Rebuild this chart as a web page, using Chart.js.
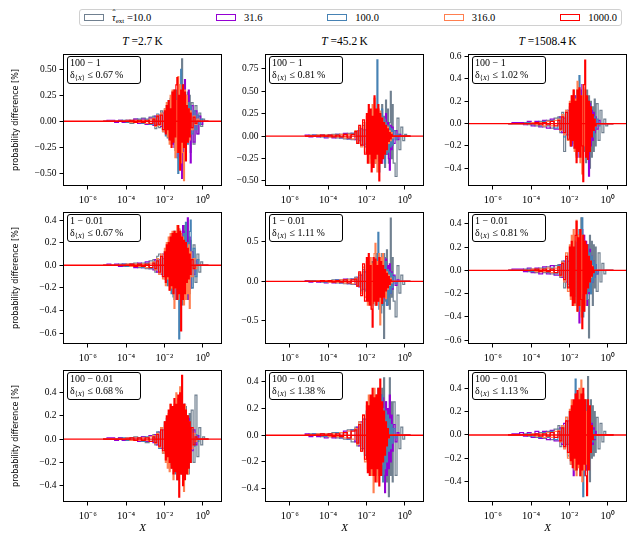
<!DOCTYPE html>
<html>
<head>
<meta charset="utf-8">
<script src="https://cdn.jsdelivr.net/npm/chart.js@4.4.0/dist/chart.umd.min.js"></script>
<style>
  body { margin: 0; background: #fff; }
  #fig { position: relative; width: 642px; height: 545px; overflow: hidden; font-family: "Liberation Serif", serif; color: #000; }
  #fig canvas { position: absolute; }
  .coltitle { position: absolute; top: 34px; width: 159px; text-align: center; font-size: 11.5px; line-height: 15px; }
  .note { position: absolute; box-sizing: border-box; width: 74px; height: 27.5px; border: 1.3px solid #000; border-radius: 3px;
          background: #fff; font-size: 10px; line-height: 11.6px; padding: 0 0 0 2.5px; z-index: 2; white-space: nowrap; }
  .sub { font-size: 7px; vertical-align: -2px; line-height: 0; }
  .hat { position: relative; display: inline-block; }
  .hat span { position: absolute; left: 0.5px; top: -4px; font-style: normal; font-size: 9px; }
  .legend { position: absolute; left: 79px; top: 9px; width: 543px; height: 17px; box-sizing: border-box; border: 1px solid #d0d0d0;
            border-radius: 3px; display: flex; justify-content: space-between; align-items: center; padding: 0 4px; font-size: 10.5px; }
  .item { display: flex; align-items: center; white-space: nowrap; }
  .sw { display: inline-block; box-sizing: border-box; width: 20px; height: 6.5px; border: 1.5px solid; margin-right: 8px; }
</style>
</head>
<body>
<div id="fig"></div>
<script>
// bin edges, as powers of ten (finer bins in the busy middle)
const edgeExp = [-5.2, -5.0, -4.8, -4.6, -4.4, -4.2, -4.0, -3.8, -3.6, -3.4, -3.2, -3.0, -2.8, -2.6,
  -2.5, -2.4, -2.3, -2.2, -2.1, -2.0,
  -1.95, -1.9, -1.85, -1.8, -1.75, -1.7, -1.65, -1.6, -1.55, -1.5, -1.45, -1.4, -1.35, -1.3,
  -1.25, -1.2, -1.15, -1.1, -1.05, -1.0, -0.95, -0.9, -0.85, -0.8, -0.75, -0.7, -0.65, -0.6,
  -0.5, -0.4, -0.3, -0.2, -0.1, 0.0, 0.1, 0.2, 0.3];

const xMin = 10 ** -7.3, xMax = 10 ** 1.01;
const xTicks = [1e-6, 1e-4, 1e-2, 1];
const xTickLabels = ['10⁻⁶', '10⁻⁴', '10⁻²', '10⁰'];

const rates = ['10.0', '31.6', '100.0', '316.0', '1000.0'];
const colors = ['#708090', '#9400d3', '#4682b4', '#ff7f50', '#ff0000'];
const temps = ['2.7', '45.2', '1508.4'];
const pairs = ['100 − 1', '1 − 0.01', '100 − 0.01'];
const deltas = ['0.67', '0.81', '1.02', '0.67', '1.11', '0.81', '0.68', '1.38', '1.13'];

// y axis limits and ticks per panel
const yRange11 = [-0.622, 0.647], yTicks11 = [-0.5, -0.25, 0, 0.25, 0.5];
const yRange12 = [-0.556, 0.915], yTicks12 = [-0.5, -0.25, 0, 0.25, 0.5, 0.75];
const yRange13 = [-0.559, 0.624], yTicks13 = [-0.4, -0.2, 0, 0.2, 0.4, 0.6];
const yRange21 = [-0.695, 0.471], yTicks21 = [-0.6, -0.4, -0.2, 0, 0.2, 0.4];
const yRange22 = [-0.792, 0.877], yTicks22 = [-0.5, 0, 0.5];
const yRange23 = [-0.632, 0.501], yTicks23 = [-0.6, -0.4, -0.2, 0, 0.2, 0.4];
const yRange31 = [-0.542, 0.596], yTicks31 = [-0.4, -0.2, 0, 0.2, 0.4];
const yRange32 = [-0.500, 0.488], yTicks32 = [-0.4, -0.2, 0, 0.2, 0.4];
const yRange33 = [-0.575, 0.557], yTicks33 = [-0.4, -0.2, 0, 0.2, 0.4];

// probability difference [%] per bin; row 1: 100 - 1
const p11_10 = [0,0,0,0,0.01,-0.01,0.01,-0.02,0.02,-0.02,0.03,-0.03,0.04, 0.05,-0.07,0.04,-0.06,0.1,-0.08,
  0.12,-0.05,0.15,-0.1,0.08,-0.18,0.2,-0.12,0.25,-0.2,0.1,-0.28,0.3,-0.15,0.22,-0.3,0.35,-0.2,0.6,-0.25,0.3,-0.35,0.15,-0.2,0.28,-0.12,0.25,-0.3,
  0.18,-0.22,0.15,-0.12,0.08,-0.05,0.02,0,0];
const p11_32 = [0,0.01,0.01,-0.01,0.01,-0.01,0.01,-0.01,0.02,-0.02,0.02,-0.03,0.03, -0.04,0.05,-0.03,0.06,-0.05,0.08,
  -0.1,0.06,-0.12,0.15,-0.08,0.18,-0.1,0.2,-0.22,0.12,-0.25,0.2,-0.3,0.15,-0.35,0.28,-0.2,0.32,-0.55,0.2,-0.3,0.4,-0.15,0.25,-0.2,0.3,-0.1,-0.4,
  0.15,-0.2,0.1,-0.12,0.05,-0.03,0,0,0];
const p11_100 = [0,0,0,0,0,0.01,-0.01,0.01,-0.01,0.02,-0.02,0.02,-0.03, 0.04,-0.05,0.07,-0.04,0.08,-0.1,
  0.1,-0.14,0.08,-0.16,0.2,-0.1,0.22,-0.18,0.28,-0.12,0.3,-0.25,0.2,-0.35,-0.5,0.3,-0.2,0.5,-0.28,0.35,-0.15,0.25,-0.3,0.12,-0.22,0.18,-0.1,0.15,
  -0.12,0.1,-0.08,0.06,-0.03,0.02,0,0,0];
const p11_316 = [0,0,0,0,0,0,0.01,-0.01,0.01,-0.01,0.01,-0.02,0.02, 0.03,-0.05,0.06,-0.04,0.08,-0.1,
  0.12,-0.08,0.18,-0.15,0.1,-0.22,0.25,-0.18,0.3,-0.12,0.28,-0.35,0.2,-0.3,0.43,-0.25,0.35,-0.4,0.22,-0.3,-0.57,0.3,-0.15,0.25,-0.2,0.12,-0.18,0.1,
  -0.08,0.05,-0.03,0.02,0,0,0,0,0];
const p11_1000 = [0,0,0,0,0,0,0,0.01,-0.01,0.01,-0.01,0.01,-0.02, 0.02,-0.04,0.05,-0.03,0.06,-0.08,
  0.1,-0.12,0.15,-0.08,0.2,-0.18,0.12,-0.25,0.28,-0.2,0.3,-0.15,0.35,0.42,-0.3,0.25,-0.47,0.3,-0.2,0.35,-0.25,0.28,-0.38,0.15,-0.2,0.12,-0.15,0.08,
  -0.06,0.04,-0.02,0,0,0,0,0,0];

const p12_10 = [0,0.01,0,0.01,-0.01,0.01,-0.01,0.02,-0.02,0.02,-0.03,0.03,-0.04, 0.05,-0.08,0.06,-0.1,0.12,-0.09,
  0.15,-0.12,0.2,-0.08,0.18,-0.22,0.1,-0.25,0.2,-0.15,0.28,-0.2,0.3,-0.1,0.25,-0.3,0.35,-0.18,0.22,-0.35,0.4,-0.2,0.3,-0.3,0.15,0.5,-0.25,0.35,
  -0.3,-0.45,0.2,-0.15,0.1,-0.05,0.02,0,0];
const p12_32 = [0.01,-0.01,0.01,-0.01,0.01,-0.02,0.01,-0.02,0.02,-0.02,0.03,-0.03,0.03, -0.04,0.06,-0.05,0.08,-0.1,0.07,
  -0.12,0.1,-0.15,0.18,-0.08,0.2,-0.22,0.12,-0.18,0.25,-0.15,0.2,-0.28,0.1,-0.2,0.22,-0.3,0.18,-0.12,0.2,0.25,-0.2,0.15,-0.25,-0.38,0.12,-0.15,0.1,
  -0.08,0.06,-0.04,0.02,0,0,0,0,0];
const p12_100 = [0,0,0.01,0,0.01,-0.01,0.01,-0.01,0.02,-0.02,0.02,-0.03,0.03, 0.05,-0.04,0.08,-0.1,0.07,-0.12,
  0.15,-0.2,0.1,-0.25,0.22,-0.15,0.3,-0.2,0.12,-0.3,0.25,0.85,-0.3,-0.4,0.2,-0.25,0.3,-0.15,0.2,-0.3,0.15,-0.2,0.12,-0.18,0.1,-0.12,0.08,-0.1,
  0.06,-0.04,0.02,0,0,0,0,0,0];
const p12_316 = [0,0,0,0.01,0,0.01,-0.01,0.01,-0.01,0.02,-0.02,0.02,-0.03, 0.06,-0.08,0.1,-0.12,0.15,-0.18,
  0.22,-0.15,0.28,-0.3,0.2,-0.25,0.35,-0.2,0.42,-0.3,0.25,-0.4,0.3,-0.15,0.28,-0.3,0.2,-0.22,0.15,-0.18,0.12,-0.15,0.1,-0.08,0.06,-0.05,0.04,-0.02,
  0,0,0,0,0,0,0,0,0];
const p12_1000 = [0,0,0,0,0.01,0,0.01,-0.01,0.01,-0.01,0.02,-0.02,0.02, 0.05,-0.08,0.12,-0.1,0.18,-0.2,
  0.25,-0.3,0.35,-0.2,0.3,-0.4,0.22,-0.35,0.45,-0.25,0.3,-0.2,0.35,-0.5,0.25,-0.3,0.2,-0.25,0.15,-0.2,0.12,-0.15,0.08,-0.06,0.04,-0.03,0.02,0,
  0,0,0,0,0,0,0,0,0];

const p13_10 = [0,0,0,0,0.01,-0.01,0.01,-0.02,0.02,-0.03,0.03,-0.04,0.05, 0.06,-0.08,0.1,-0.25,0.12,-0.1,
  0.15,-0.12,0.2,-0.18,0.1,-0.22,0.25,-0.15,0.3,-0.2,0.18,-0.3,0.28,-0.1,0.32,-0.25,0.2,-0.35,0.3,-0.15,0.25,-0.4,0.2,-0.3,0.15,-0.25,0.22,-0.2,
  0.18,-0.15,0.12,-0.08,0.04,-0.02,0,0,0];
const p13_32 = [0,0.01,0.01,0.01,-0.01,0.02,-0.02,0.02,-0.03,0.03,-0.04,0.04,-0.05, -0.05,0.06,-0.08,0.05,-0.1,0.12,
  -0.15,0.1,-0.2,0.18,-0.12,0.25,-0.2,0.15,-0.3,0.22,-0.18,0.3,-0.25,0.35,-0.2,0.28,-0.15,0.22,-0.3,0.2,-0.47,0.18,-0.2,0.12,-0.15,0.1,-0.08,0.06,
  -0.05,0.03,0,0,0,0,0,0,0];
const p13_100 = [0,0,0,0,0,0.01,-0.01,0.01,-0.02,0.02,-0.02,0.03,-0.04, 0.05,-0.06,0.08,-0.12,0.1,-0.15,
  0.12,-0.2,0.18,-0.1,0.25,-0.22,0.15,-0.28,0.3,-0.2,0.43,-0.3,0.22,-0.35,0.3,-0.2,0.25,-0.3,0.2,-0.15,0.18,-0.22,0.12,-0.1,0.08,-0.12,0.06,-0.05,
  0.04,-0.02,0,0,0,0,0,0,0];
const p13_316 = [0,0,0,0,0,0,0.01,-0.01,0.01,-0.02,0.02,-0.02,0.03, 0.04,-0.06,0.08,-0.1,0.12,-0.15,
  0.2,-0.18,0.25,-0.15,0.3,-0.25,0.22,-0.3,0.38,-0.2,0.3,-0.35,0.25,-0.45,0.35,-0.2,0.3,-0.25,0.18,-0.2,0.12,-0.15,0.1,-0.08,0.05,-0.04,0.03,-0.02,
  0,0,0,0,0,0,0,0,0];
const p13_1000 = [0,0,0,0,0,0,0,0.01,-0.01,0.01,-0.01,0.02,-0.02, 0.03,-0.05,0.06,-0.08,0.1,-0.14,
  0.18,-0.2,0.25,-0.15,0.3,-0.22,0.2,-0.35,0.3,-0.25,0.32,-0.3,0.25,-0.2,-0.52,0.35,0.57,-0.3,0.25,-0.32,0.2,-0.25,0.15,-0.12,0.08,-0.06,0.04,-0.02,
  0,0,0,0,0,0,0,0,0];

// row 2: 1 - 0.01
const p21_10 = [0,0,0,0,0.01,-0.01,0.01,-0.01,0.02,-0.02,0.02,-0.03,0.04, 0.05,-0.06,0.08,0.1,-0.08,0.06,
  -0.1,0.12,-0.08,0.15,-0.18,0.1,-0.2,0.22,-0.15,0.25,-0.3,0.2,-0.25,0.3,-0.2,0.32,-0.28,0.2,-0.35,0.3,-0.22,0.35,-0.2,0.28,-0.3,0.2,-0.25,0.22,
  -0.2,0.18,-0.15,0.1,-0.06,0.03,0,0,0];
const p21_32 = [0,0.01,0,0.01,-0.01,0.01,-0.01,0.01,-0.02,0.02,-0.02,0.03,-0.03, -0.04,0.05,-0.06,0.05,-0.08,0.1,
  -0.12,0.08,-0.15,0.12,-0.1,0.18,-0.2,0.15,-0.22,0.25,-0.18,0.28,-0.3,0.2,-0.25,0.3,-0.35,0.22,-0.3,0.35,-0.2,0.3,-0.25,0.2,0.42,-0.3,0.25,-0.2,
  0.12,-0.08,0.04,0,0,0,0,0,0];
const p21_100 = [0,0,0,0,0,0.01,-0.01,0.01,-0.01,0.01,-0.02,0.02,-0.03, 0.03,-0.04,0.05,-0.07,0.08,-0.1,
  0.12,-0.1,0.15,-0.18,0.2,-0.12,0.22,-0.25,0.18,-0.28,0.3,-0.2,0.25,-0.3,0.28,-0.65,0.3,-0.35,0.2,-0.3,0.28,-0.2,0.38,-0.25,0.2,-0.22,0.3,0.4,
  -0.2,0.15,-0.1,0.05,0,0,0,0,0];
const p21_316 = [0,0,0,0,0,0,0.01,-0.01,0.01,-0.01,0.01,-0.02,0.02, 0.03,-0.04,0.06,-0.08,0.1,-0.12,
  0.15,-0.18,0.2,-0.12,0.25,-0.22,0.28,-0.2,0.3,-0.25,-0.38,0.3,-0.2,0.35,-0.3,0.32,-0.25,0.28,-0.3,0.25,-0.35,0.2,-0.3,0.15,-0.25,0.18,-0.38,0.12,
  -0.1,0.06,-0.03,0,0,0,0,0,0];
const p21_1000 = [0,0,0,0,0,0,0,0.01,-0.01,0.01,-0.01,0.01,-0.02, 0.02,-0.03,0.04,-0.06,0.08,-0.1,
  0.12,-0.15,0.18,-0.1,0.2,-0.22,0.25,-0.18,0.28,-0.25,0.3,-0.2,0.28,-0.3,0.35,-0.25,0.3,-0.58,0.25,-0.3,0.22,-0.25,0.2,-0.15,0.15,-0.12,0.1,-0.08,
  0.05,-0.03,0,0,0,0,0,0,0];

const p22_10 = [0,0.01,0,0.01,-0.01,0.01,-0.01,0.02,-0.02,0.02,-0.03,0.03,-0.04, 0.05,-0.06,0.08,-0.1,0.12,-0.1,
  0.15,-0.2,0.12,-0.18,0.2,-0.15,0.25,-0.22,0.18,-0.3,0.25,-0.2,0.3,-0.25,0.2,-0.3,0.35,-0.2,-0.72,0.3,-0.25,0.4,-0.3,0.2,-0.35,0.8,-0.2,0.3,
  -0.25,-0.45,0.2,-0.15,0.08,-0.04,0,0,0];
const p22_32 = [0.01,-0.01,0.01,-0.01,0.01,-0.02,0.01,-0.02,0.02,-0.02,0.03,-0.03,0.03, -0.04,0.05,-0.07,0.08,-0.1,0.12,
  -0.12,0.15,-0.1,0.18,-0.15,0.2,-0.22,0.12,-0.2,0.25,-0.18,0.22,-0.25,0.2,-0.15,0.3,-0.2,0.25,0.3,-0.22,0.28,-0.3,0.2,-0.18,0.22,-0.15,0.12,-0.1,
  0.08,-0.05,0.02,0,0,0,0,0,0];
const p22_100 = [0,0,0.01,0,0.01,-0.01,0.01,-0.01,0.02,-0.02,0.02,-0.03,0.03, 0.05,-0.06,0.08,-0.12,0.15,-0.12,
  0.2,-0.25,0.15,-0.22,0.25,-0.3,0.2,-0.18,0.3,-0.25,0.35,-0.2,0.62,-0.35,0.3,-0.4,0.25,-0.3,0.35,-0.2,0.25,-0.3,0.15,-0.2,0.12,-0.15,0.1,-0.08,
  0.06,-0.03,0,0,0,0,0,0,0];
const p22_316 = [0,0,0,0.01,0,0.01,-0.01,0.01,-0.01,0.02,-0.02,0.02,-0.03, 0.04,-0.06,0.1,-0.15,0.18,-0.2,
  0.25,-0.3,0.2,-0.25,0.3,-0.35,0.22,-0.28,0.35,0.48,-0.3,0.25,-0.2,0.35,-0.55,0.3,-0.25,0.35,-0.2,0.15,-0.22,0.12,-0.1,0.08,-0.05,0.04,-0.02,0,
  0,0,0,0,0,0,0,0,0];
const p22_1000 = [0,0,0,0,0.01,0,0.01,-0.01,0.01,-0.01,0.02,-0.02,0.02, 0.03,-0.06,0.12,-0.18,0.22,-0.25,
  0.3,-0.25,0.35,-0.3,0.2,-0.35,-0.58,0.3,-0.25,0.28,-0.3,0.2,-0.25,0.3,-0.2,0.25,-0.28,0.2,-0.2,0.15,-0.12,0.1,-0.08,0.06,-0.04,0.02,0,0,
  0,0,0,0,0,0,0,0,0];

const p23_10 = [0,0,0,0,0.01,-0.01,0.01,-0.02,0.02,-0.02,0.03,-0.03,0.04, 0.05,-0.06,0.08,-0.15,0.1,-0.12,
  0.15,-0.1,0.18,-0.2,0.12,-0.22,0.25,-0.18,0.3,-0.25,0.2,-0.3,0.45,-0.2,0.3,-0.35,0.25,-0.3,0.2,-0.25,-0.58,0.3,-0.2,0.25,-0.3,0.22,-0.15,0.2,
  -0.18,0.15,-0.1,0.06,-0.03,0,0,0,0];
const p23_32 = [0,0.01,0.01,0.01,-0.01,0.02,-0.02,0.02,-0.03,0.03,-0.03,0.04,-0.04, -0.04,0.05,-0.06,0.08,-0.1,0.08,
  -0.12,0.15,-0.1,0.18,-0.2,0.12,-0.22,0.25,-0.18,0.3,-0.45,0.2,-0.3,0.35,-0.25,0.3,-0.2,0.25,-0.3,0.22,-0.2,0.18,-0.15,0.12,-0.1,0.08,-0.06,0.05,
  -0.03,0,0,0,0,0,0,0,0];
const p23_100 = [0,0,0,0,0,0.01,-0.01,0.01,-0.01,0.02,-0.02,0.02,-0.03, 0.04,-0.05,0.07,-0.1,0.12,-0.14,
  0.15,-0.18,0.2,-0.12,0.25,-0.22,0.18,-0.3,0.28,-0.2,0.35,-0.35,0.3,0.45,-0.4,0.25,-0.3,0.2,-0.25,0.22,-0.18,0.15,-0.2,0.12,-0.1,0.08,-0.06,0.05,
  -0.03,0,0,0,0,0,0,0,0];
const p23_316 = [0,0,0,0,0,0,0.01,-0.01,0.01,-0.01,0.02,-0.02,0.02, 0.03,-0.05,0.07,-0.1,0.15,-0.18,
  0.22,-0.25,0.3,-0.2,0.35,-0.3,0.25,0.43,-0.35,0.3,-0.25,0.35,-0.4,0.3,-0.2,0.25,-0.3,0.2,-0.15,0.12,-0.1,0.08,-0.06,0.04,-0.02,0,0,0,
  0,0,0,0,0,0,0,0,0];
const p23_1000 = [0,0,0,0,0,0,0,0.01,-0.01,0.01,-0.01,0.01,-0.02, 0.03,-0.04,0.06,-0.08,0.12,-0.15,
  0.2,-0.22,0.25,-0.3,0.2,-0.28,0.3,0.42,-0.35,0.28,-0.3,0.35,-0.25,-0.5,0.3,-0.35,0.25,-0.2,0.22,-0.15,0.12,-0.1,0.08,-0.05,0.03,-0.02,0,0,
  0,0,0,0,0,0,0,0,0];

// row 3: 100 - 0.01
const p31_10 = [0,0,0,0,0.01,-0.01,0.01,-0.01,0.02,-0.02,0.02,-0.03,0.03, 0.04,-0.05,0.06,-0.07,0.1,-0.08,
  0.12,-0.1,0.15,-0.12,0.18,-0.15,0.2,-0.18,0.15,-0.22,0.25,-0.2,0.28,-0.25,0.3,-0.2,0.35,-0.3,0.25,-0.35,0.3,-0.2,0.28,-0.25,0.2,-0.3,0.22,-0.2,
  0.25,-0.2,0.38,-0.15,0.1,-0.05,0.02,0,0];
const p31_32 = [0,0.01,0.01,-0.01,0.01,-0.01,0.01,-0.01,0.01,-0.02,0.02,-0.02,0.03, -0.03,0.04,-0.05,0.06,-0.08,0.08,
  -0.1,0.12,-0.08,0.15,-0.12,0.18,-0.15,0.2,-0.18,0.15,-0.22,0.25,-0.2,0.22,-0.25,0.28,-0.2,0.25,-0.3,0.28,-0.2,0.3,-0.25,0.2,-0.15,0.18,-0.12,0.1,
  -0.1,0.08,-0.05,0.03,0,0,0,0,0];
const p31_100 = [0,0,0,0,0,0.01,-0.01,0.01,-0.01,0.01,-0.02,0.02,-0.02, 0.03,-0.04,0.06,-0.08,0.1,-0.12,
  0.15,-0.12,0.18,-0.2,0.15,-0.22,0.2,-0.25,0.22,-0.18,0.28,-0.3,0.25,-0.35,0.3,-0.25,0.35,-0.2,0.3,-0.25,0.2,-0.3,0.18,-0.2,0.15,-0.12,0.12,-0.1,
  0.08,-0.06,0.04,-0.02,0,0,0,0,0];
const p31_316 = [0,0,0,0,0,0,0.01,-0.01,0.01,-0.01,0.01,-0.01,0.02, 0.03,-0.04,0.05,-0.07,0.1,-0.12,
  0.15,-0.2,0.12,-0.25,0.22,-0.28,0.3,-0.2,0.25,-0.35,0.3,-0.25,0.4,-0.3,0.35,-0.25,0.45,-0.3,0.28,-0.35,-0.45,0.3,-0.25,0.2,-0.3,0.15,-0.12,0.1,
  -0.08,0.05,-0.02,0,0,0,0,0,0];
const p31_1000 = [0,0,0,0,0,0,0,0.01,-0.01,0.01,-0.01,0.01,-0.02, 0.02,-0.03,0.04,-0.06,0.08,-0.1,
  0.15,-0.18,0.2,-0.15,0.25,-0.2,0.3,-0.25,0.28,-0.3,0.35,-0.28,0.3,-0.35,0.38,-0.5,0.4,-0.3,0.55,-0.4,0.3,-0.35,0.25,-0.3,0.2,-0.25,0.15,-0.2,
  0.1,-0.05,0.02,0,0,0,0,0,0];

const p32_10 = [0,0.01,0,0.01,-0.01,0.01,-0.01,0.02,-0.02,0.02,-0.03,0.04,-0.05, 0.06,-0.08,0.1,-0.1,0.12,-0.15,
  0.18,-0.15,0.2,-0.22,0.15,-0.25,0.22,-0.2,0.28,-0.25,0.2,-0.3,0.25,-0.2,0.3,-0.28,0.35,-0.2,0.43,-0.3,0.25,-0.35,0.2,-0.46,0.43,-0.3,0.25,-0.35,
  0.25,-0.3,0.15,-0.1,0.06,-0.03,0,0,0];
const p32_32 = [0.01,-0.01,0.01,-0.01,0.01,-0.02,0.01,-0.02,0.02,-0.02,0.03,-0.03,0.04, -0.05,0.06,-0.08,0.1,-0.1,0.12,
  -0.15,0.18,-0.12,0.2,-0.18,0.15,-0.22,0.2,-0.25,0.22,-0.2,0.25,-0.3,0.2,-0.25,0.3,-0.2,0.28,-0.3,-0.43,0.25,-0.3,0.2,-0.25,0.3,-0.2,0.15,-0.12,
  0.08,-0.05,0.02,0,0,0,0,0,0];
const p32_100 = [0,0,0.01,0,0.01,-0.01,0.01,-0.01,0.02,-0.02,0.02,-0.03,0.04, 0.05,-0.06,0.08,-0.1,0.12,-0.15,
  0.18,-0.2,0.22,-0.15,0.25,-0.22,0.2,-0.28,0.25,-0.3,0.3,-0.2,0.35,-0.3,0.25,-0.3,0.3,-0.35,0.2,-0.25,0.18,-0.2,0.15,-0.12,0.12,-0.1,0.08,-0.06,
  0.05,-0.02,0,0,0,0,0,0,0];
const p32_316 = [0,0,0,0.01,0,0.01,-0.01,0.01,-0.01,0.02,-0.02,0.03,-0.03, 0.05,-0.07,0.1,-0.12,0.15,-0.2,
  0.22,-0.25,0.3,-0.2,0.28,-0.3,0.25,-0.43,0.35,-0.25,0.3,-0.35,0.2,-0.3,0.25,-0.22,0.2,-0.15,0.12,-0.1,0.08,-0.06,0.04,-0.02,0,0,0,0,
  0,0,0,0,0,0,0,0,0];
const p32_1000 = [0,0,0,0,0.01,0,0.01,-0.01,0.01,-0.01,0.02,-0.02,0.03, 0.04,-0.06,0.08,-0.12,0.15,-0.18,
  0.25,-0.28,0.22,-0.3,0.3,-0.25,0.35,-0.3,0.28,-0.35,0.3,-0.25,0.35,-0.38,0.42,-0.3,0.25,-0.2,0.18,-0.15,0.1,-0.08,0.05,-0.02,0,0,0,0,
  0,0,0,0,0,0,0,0,0];

const p33_10 = [0,0,0,0,0.01,-0.01,0.01,-0.02,0.02,-0.03,0.03,-0.04,0.05, 0.08,-0.1,0.06,-0.1,0.12,-0.08,
  0.15,-0.12,0.18,-0.2,0.12,-0.22,0.2,-0.25,0.3,-0.2,0.25,-0.3,0.35,-0.25,0.3,-0.35,0.25,-0.3,0.3,0.5,-0.25,-0.4,0.3,-0.2,0.25,-0.18,0.2,-0.15,
  0.15,-0.12,0.1,-0.06,0.03,0,0,0,0];
const p33_32 = [0,0.01,0.01,0.02,-0.01,0.02,-0.02,0.03,-0.03,0.03,-0.04,0.04,-0.05, -0.05,0.06,-0.08,0.1,-0.08,0.12,
  -0.15,0.18,-0.2,0.15,-0.35,0.2,-0.22,0.25,-0.2,0.3,-0.25,0.22,-0.3,0.28,-0.35,0.3,-0.2,0.25,-0.3,0.2,-0.15,0.18,-0.12,0.1,-0.08,0.06,-0.04,0.03,
  0,0,0,0,0,0,0,0,0];
const p33_100 = [0,0,0,0,0,0.01,-0.01,0.01,-0.02,0.02,-0.02,0.03,-0.04, 0.05,-0.06,0.08,-0.1,0.15,-0.18,
  0.2,-0.25,0.22,-0.2,0.25,-0.3,0.48,-0.3,0.35,-0.25,0.3,-0.35,0.3,-0.2,-0.53,0.3,-0.3,0.25,-0.2,0.22,-0.15,0.12,-0.1,0.08,-0.06,0.04,-0.03,0,
  0,0,0,0,0,0,0,0,0];
const p33_316 = [0,0,0,0,0,0,0.01,-0.01,0.01,-0.02,0.02,-0.02,0.03, 0.04,-0.06,0.08,-0.12,0.15,-0.2,
  0.22,-0.25,0.3,-0.22,0.28,-0.3,0.25,-0.35,0.3,-0.28,0.4,-0.3,0.47,-0.4,0.35,-0.3,0.3,-0.25,0.2,-0.15,0.12,-0.1,0.05,-0.02,0,0,0,0,
  0,0,0,0,0,0,0,0,0];
const p33_1000 = [0,0,0,0,0,0,0,0.01,-0.01,0.01,-0.01,0.02,-0.02, 0.03,-0.05,0.06,-0.1,0.12,-0.15,
  0.2,-0.22,0.25,-0.28,0.3,-0.2,0.35,-0.3,0.38,-0.25,0.3,-0.35,0.35,-0.3,0.4,-0.25,0.3,-0.35,-0.52,0.3,-0.3,0.25,-0.15,0.08,-0.04,0,0,0,
  0,0,0,0,0,0,0,0,0];

const panels = [
  { series: [p11_10, p11_32, p11_100, p11_316, p11_1000], yr: yRange11, yt: yTicks11, dec: 2 },
  { series: [p12_10, p12_32, p12_100, p12_316, p12_1000], yr: yRange12, yt: yTicks12, dec: 2 },
  { series: [p13_10, p13_32, p13_100, p13_316, p13_1000], yr: yRange13, yt: yTicks13, dec: 1 },
  { series: [p21_10, p21_32, p21_100, p21_316, p21_1000], yr: yRange21, yt: yTicks21, dec: 1 },
  { series: [p22_10, p22_32, p22_100, p22_316, p22_1000], yr: yRange22, yt: yTicks22, dec: 1 },
  { series: [p23_10, p23_32, p23_100, p23_316, p23_1000], yr: yRange23, yt: yTicks23, dec: 1 },
  { series: [p31_10, p31_32, p31_100, p31_316, p31_1000], yr: yRange31, yt: yTicks31, dec: 1 },
  { series: [p32_10, p32_32, p32_100, p32_316, p32_1000], yr: yRange32, yt: yTicks32, dec: 1 },
  { series: [p33_10, p33_32, p33_100, p33_316, p33_1000], yr: yRange33, yt: yTicks33, dec: 1 }
];

// layout (pixels)
const colLeft = [63, 265, 468];
const rowTop = [54, 212, 370];
const plotW = 159, plotH = 132, yAxisW = 63, padTop = 9, padRight = 3;

Chart.defaults.font.family = '"Liberation Serif", serif';
Chart.defaults.font.size = 9.5;
Chart.defaults.color = '#000';

const fig = document.getElementById('fig');

// legend
const legend = document.createElement('div');
legend.className = 'legend';
rates.forEach((r, i) => {
  const item = document.createElement('div');
  item.className = 'item';
  const label = i === 0 ? '<i class="hat">τ<span>ˆ</span></i><span class="sub">ext</span> =' + r : r;
  item.innerHTML = '<span class="sw" style="border-color:' + colors[i] + '"></span><span>' + label + '</span>';
  legend.appendChild(item);
});
fig.appendChild(legend);

// column titles
temps.forEach((t, c) => {
  const d = document.createElement('div');
  d.className = 'coltitle';
  d.style.left = colLeft[c] + 'px';
  d.innerHTML = '<i>T</i> =' + t + '&#8201;K';
  fig.appendChild(d);
});

const framePlugin = {
  id: 'frame',
  afterDraw(chart) {
    const { ctx, chartArea: a } = chart;
    ctx.save();
    ctx.strokeStyle = '#000';
    ctx.lineWidth = 1;
    ctx.strokeRect(Math.round(a.left) + 0.5, Math.round(a.top) + 0.5, Math.round(a.right - a.left) - 1, Math.round(a.bottom - a.top) - 1);
    ctx.restore();
  }
};

// histogram outline as stepped points
function stepPoints(vals) {
  const pts = [{ x: 10 ** edgeExp[0], y: 0 }];
  vals.forEach((v, i) => pts.push({ x: 10 ** edgeExp[i], y: v }));
  pts.push({ x: 10 ** edgeExp[vals.length], y: 0 });
  return pts;
}

function fmt(v, dec) {
  return v.toFixed(dec).replace('-', '−');
}

panels.forEach((p, k) => {
  const r = Math.floor(k / 3), c = k % 3;
  const xH = r === 2 ? 36 : 24;
  const w = yAxisW + plotW + padRight, h = padTop + plotH + xH;

  const cv = document.createElement('canvas');
  cv.width = w; cv.height = h;
  cv.style.left = (colLeft[c] - yAxisW) + 'px';
  cv.style.top = (rowTop[r] - padTop) + 'px';
  cv.style.width = w + 'px';
  cv.style.height = h + 'px';
  fig.appendChild(cv);

  const datasets = [{
    data: [{ x: xMin, y: 0 }, { x: xMax, y: 0 }],
    borderColor: colors[4], borderWidth: 1.4, pointRadius: 0, order: 0
  }];
  p.series.forEach((vals, i) => {
    datasets.push({
      data: stepPoints(vals),
      borderColor: colors[i],
      borderWidth: 1.2,
      pointRadius: 0,
      stepped: true,
      fill: false,
      order: 5 - i
    });
  });

  new Chart(cv, {
    type: 'line',
    data: { datasets },
    options: {
      responsive: false,
      animation: false,
      events: [],
      layout: { padding: { top: padTop, right: padRight, left: 0, bottom: 0 } },
      plugins: { legend: { display: false }, tooltip: { enabled: false } },
      scales: {
        x: {
          type: 'logarithmic',
          min: xMin,
          max: xMax,
          afterBuildTicks: s => { s.ticks = xTicks.map(v => ({ value: v })); },
          afterFit: s => { s.height = xH; },
          ticks: {
            maxRotation: 0,
            autoSkip: false,
            padding: 4,
            font: { size: 10.5 },
            callback: v => xTickLabels[xTicks.indexOf(v)]
          },
          grid: { display: true, drawOnChartArea: false, drawTicks: true, tickLength: 3.5, color: '#000' },
          border: { display: false },
          title: {
            display: r === 2,
            text: 'X',
            font: { size: 11, style: 'italic' },
            padding: { top: 0, bottom: 3.4 }
          }
        },
        y: {
          type: 'linear',
          min: p.yr[0],
          max: p.yr[1],
          afterBuildTicks: s => { s.ticks = p.yt.map(v => ({ value: v })); },
          afterFit: s => { s.width = yAxisW; },
          ticks: { autoSkip: false, padding: 3, callback: v => fmt(v, p.dec) },
          grid: { display: true, drawOnChartArea: false, drawTicks: true, tickLength: 3.5, color: '#000' },
          border: { display: false },
          title: {
            display: c === 0,
            text: 'probability difference [%]',
            font: { family: '"DejaVu Sans", sans-serif', size: 8 },
            padding: { top: 11, bottom: 0 }
          }
        }
      }
    },
    plugins: [framePlugin]
  });

  const note = document.createElement('div');
  note.className = 'note';
  note.style.left = (colLeft[c] + 3.5) + 'px';
  note.style.top = (rowTop[r] + 2) + 'px';
  note.innerHTML = pairs[r] + '<br>δ<span class="sub">⟨<i>X</i>⟩</span> ≤ ' + deltas[k] + '&#8201;%';
  fig.appendChild(note);
});
</script>
</body>
</html>
